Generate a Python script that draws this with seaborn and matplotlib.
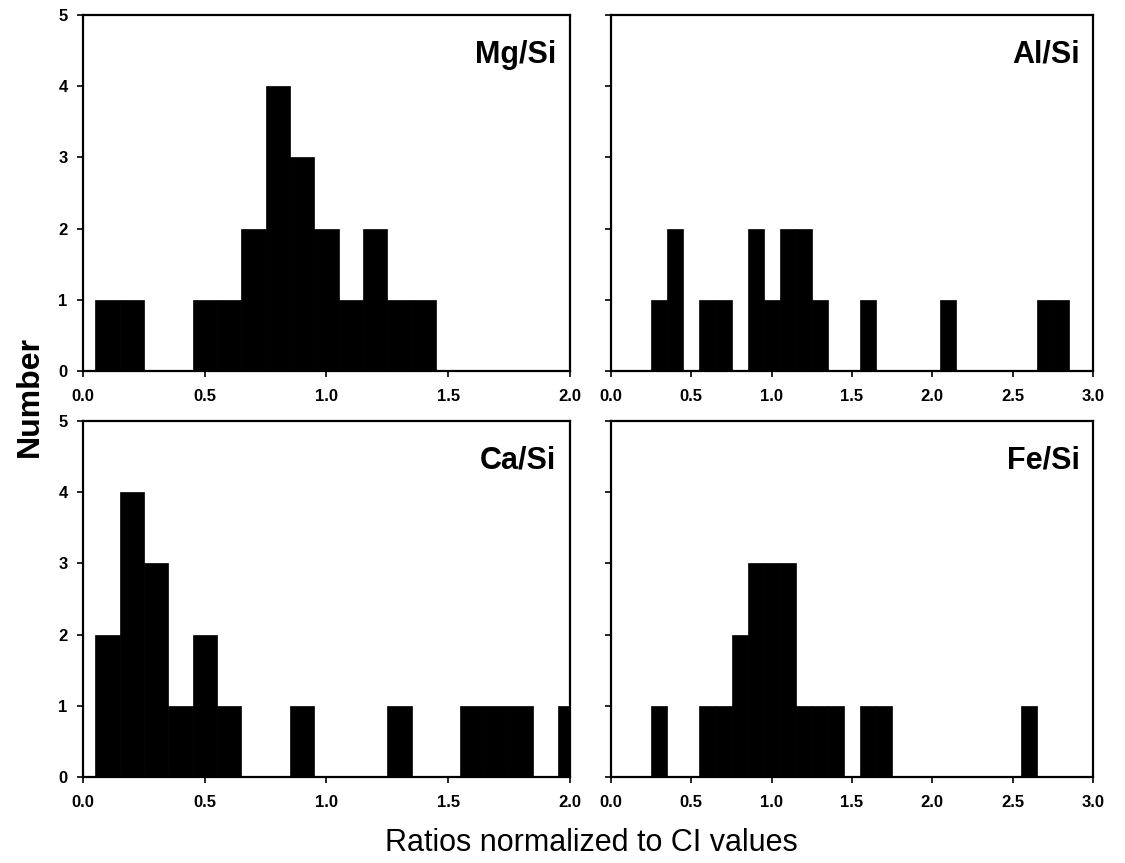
import numpy as np
import pandas as pd
import matplotlib
matplotlib.use("Agg")
import matplotlib.pyplot as plt
import seaborn as sns

# ---------------- data (bin centres and counts, bins of width 0.1) -------------
mg_centers = [0.1, 0.2, 0.5, 0.6, 0.7, 0.8, 0.9, 1.0, 1.1, 1.2, 1.3, 1.4]
mg_counts  = [1,   1,   1,   1,   2,   4,   3,   2,   1,   2,   1,   1]

al_centers = [0.3, 0.4, 0.6, 0.7, 0.9, 1.0, 1.1, 1.2, 1.3, 1.6, 2.1, 2.7, 2.8]
al_counts  = [1,   2,   1,   1,   2,   1,   2,   2,   1,   1,   1,   1,   1]

ca_centers = [0.1, 0.2, 0.3, 0.4, 0.5, 0.6, 0.9, 1.3, 1.6, 1.7, 1.8, 2.0]
ca_counts  = [2,   4,   3,   1,   2,   1,   1,   1,   1,   1,   1,   1]

fe_centers = [0.3, 0.6, 0.7, 0.8, 0.9, 1.0, 1.1, 1.2, 1.3, 1.4, 1.6, 1.7, 2.6]
fe_counts  = [1,   1,   1,   2,   3,   3,   3,   1,   1,   1,   1,   1,   1]

panel_labels = ["Mg/Si", "Al/Si", "Ca/Si", "Fe/Si"]
xticks_left = [0.0, 0.5, 1.0, 1.5, 2.0]
xticks_right = [0.0, 0.5, 1.0, 1.5, 2.0, 2.5, 3.0]
yticks = [0, 1, 2, 3, 4, 5]
ylabel = "Number"
xlabel = "Ratios normalized to CI values"

# ---------------- style -------------
sns.set_style("ticks")
plt.rcParams["font.family"] = ["Liberation Sans", "DejaVu Sans"]
plt.rcParams["text.color"] = "black"
plt.rcParams["xtick.color"] = "black"
plt.rcParams["ytick.color"] = "black"
plt.rcParams["axes.labelcolor"] = "black"

W, H = 1125, 863
fig = plt.figure(figsize=(W / 100, H / 100), dpi=100)

def rect(l, t, r, b):
    return [l / W, 1 - b / H, (r - l) / W, (b - t) / H]

positions = [rect(83, 15, 570, 371), rect(611, 15, 1093, 371),
             rect(83, 421, 570, 777), rect(611, 421, 1093, 777)]

series = [(mg_centers, mg_counts, xticks_left, True),
          (al_centers, al_counts, xticks_right, False),
          (ca_centers, ca_counts, xticks_left, True),
          (fe_centers, fe_counts, xticks_right, False)]

edges = [round(v, 2) for v in np.arange(0.05, 3.0, 0.1)]

for pos, (cen, cnt, xt, show_y), lab in zip(positions, series, panel_labels):
    ax = fig.add_axes(pos)
    df = pd.DataFrame({"x": cen, "w": cnt})
    sns.histplot(data=df, x="x", weights="w", bins=edges, color="black",
                 alpha=1, edgecolor="black", linewidth=0.5, ax=ax)
    ax.set_xlim(xt[0], xt[-1])
    ax.set_ylim(0, 5)
    ax.set_xticks(xt, labels=[f"{v:.1f}" for v in xt], fontweight="bold", fontsize=12)
    if show_y:
        ax.set_yticks(yticks, labels=[str(v) for v in yticks], fontweight="bold", fontsize=12)
    else:
        ax.set_yticks(yticks, labels=[])
    ax.tick_params(direction="out", length=4, width=1.2, color="black")
    ax.tick_params(axis="x", pad=9)
    ax.tick_params(axis="y", pad=7)
    for s in ax.spines.values():
        s.set_visible(True)
        s.set_linewidth(1.6)
        s.set_color("black")
    ax.set_xlabel("")
    ax.set_ylabel("")
    ax.text(0.972, 0.93, lab, transform=ax.transAxes, ha="right", va="top",
            fontsize=22, fontweight="bold", color="black")

fig.text(30 / W, 1 - 396 / H, ylabel, rotation=90, ha="center", va="center",
         fontsize=23, fontweight="bold", color="black")
fig.text(591 / W, 1 - 843 / H, xlabel, ha="center", va="center", fontsize=22,
         color="black")

fig.savefig("out.png", dpi=100)
